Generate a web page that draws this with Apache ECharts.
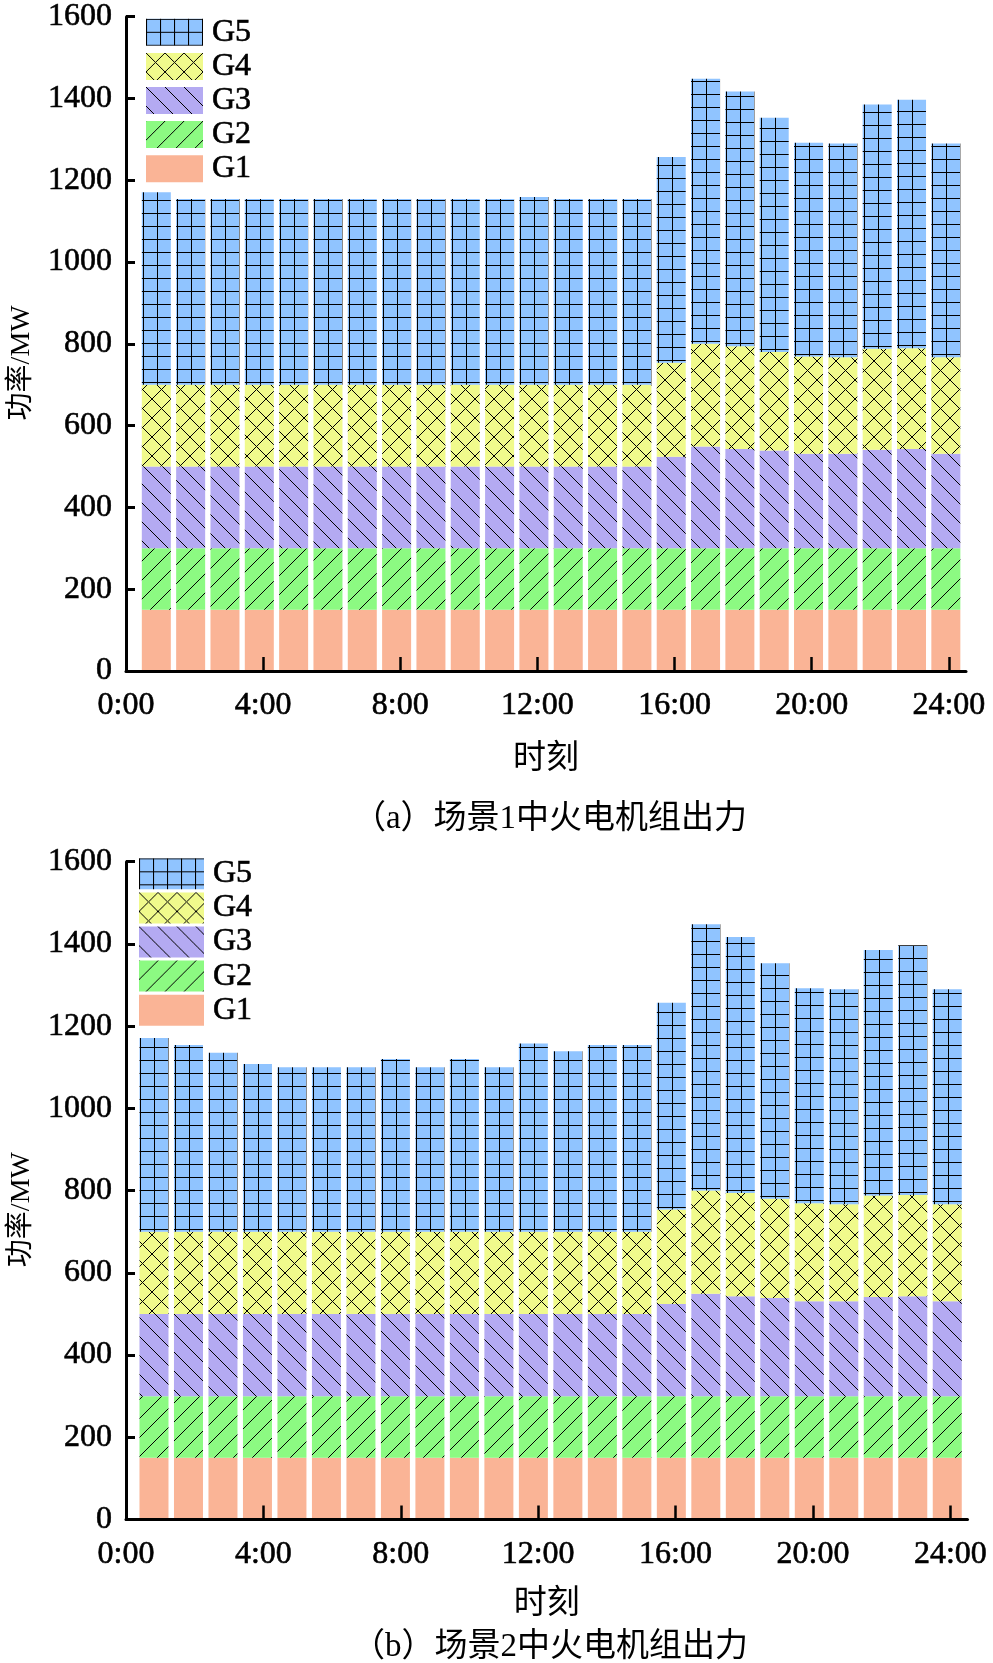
<!DOCTYPE html>
<html>
<head>
<meta charset="utf-8">
<script src="https://cdn.jsdelivr.net/npm/echarts@6/dist/echarts.min.js"></script>
<style>
html,body{margin:0;padding:0;background:#fff;}
#chart{width:993px;height:1663px;}
</style>
</head>
<body>
<div id="chart"></div>
<script>
// ---------------- data ----------------
const hours = [1,2,3,4,5,6,7,8,9,10,11,12,13,14,15,16,17,18,19,20,21,22,23,24];
const xTickLabels = ['0:00','4:00','8:00','12:00','16:00','20:00','24:00'];
const xTickHours = [0,4,8,12,16,20,24];
const xAxisMaxHour = 24.5;
const yTickValues = [0,200,400,600,800,1000,1200,1400,1600];
const seriesNames = ['G1','G2','G3','G4','G5'];
const legendOrder = ['G5','G4','G3','G2','G1'];
const xAxisTitle = '时刻';
const yAxisTitle = '功率/MW';
const captionA = '（a）场景1中火电机组出力';
const captionB = '（b）场景2中火电机组出力';

// Scenario 1
const s1G1 = [150,150,150,150,150,150,150,150,150,150,150,150,150,150,150,150,150,150,150,150,150,150,150,150];
const s1G2 = [150,150,150,150,150,150,150,150,150,150,150,150,150,150,150,150,150,150,150,150,150,150,150,150];
const s1G3 = [200,200,200,200,200,200,200,200,200,200,200,200,200,200,200,224,249,243,239,231,231,241,243,231];
const s1G4 = [200,200,200,200,200,200,200,200,200,200,200,200,200,200,200,230,251,251,241,238,236,247,246,236];
const s1G5 = [471,454,454,454,454,454,454,454,454,454,454,459,454,454,454,503,648,623,573,523,523,597,608,523];

// Scenario 2
const s2G1 = [150,150,150,150,150,150,150,150,150,150,150,150,150,150,150,150,150,150,150,150,150,150,150,150];
const s2G2 = [150,150,150,150,150,150,150,150,150,150,150,150,150,150,150,150,150,150,150,150,150,150,150,150];
const s2G3 = [200,200,200,200,200,200,200,200,200,200,200,200,200,200,200,224,249,243,239,231,231,241,243,231];
const s2G4 = [200,200,200,200,200,200,200,200,200,200,200,200,200,200,200,230,251,251,241,238,236,247,246,236];
const s2G5 = [471,454,435,408,400,400,400,420,400,420,400,458,439,454,454,503,648,623,573,523,523,597,608,523];

// ---------------- styles ----------------
const FONT = "'Liberation Serif', 'Noto Sans CJK SC', serif";
const baseColors = {G1:'#FAB496', G2:'#8CFA82', G3:'#B4AAF2', G4:'#F0FA8C', G5:'#90C4FF'};

function makePattern(base, w, h, draw) {
  const c = document.createElement('canvas');
  c.width = w; c.height = h;
  const ctx = c.getContext('2d');
  ctx.fillStyle = base;
  ctx.fillRect(0, 0, w, h);
  ctx.fillStyle = '#000';
  if (draw) draw(ctx, w, h);
  return {image: c, repeat: 'repeat'};
}
const patterns = {
  G1: baseColors.G1,
  G2: makePattern(baseColors.G2, 19, 19, (ctx, w, h) => { for (let i = 0; i < w; i++) ctx.fillRect(i, h - 1 - i, 1, 1); }),
  G3: makePattern(baseColors.G3, 19, 19, (ctx, w, h) => { for (let i = 0; i < w; i++) ctx.fillRect(i, i, 1, 1); }),
  G4: makePattern(baseColors.G4, 19, 19, (ctx, w, h) => { for (let i = 0; i < w; i++) { ctx.fillRect(i, i, 1, 1); ctx.fillRect(w - 1 - i, i, 1, 1); } }),
  G5: makePattern(baseColors.G5, 14, 13, (ctx, w, h) => { ctx.fillRect(0, 0, 1, h); ctx.fillRect(0, 0, w, 1); })
};

// category slots every half hour (axis scaffolding)
const slots = [];
for (let k = 0; k <= xAxisMaxHour * 2; k++) slots.push(String(k / 2));
function toSlots(values) {
  return slots.map(s => {
    const idx = hours.indexOf(Number(s));
    return idx >= 0 ? values[idx] : '-';
  });
}
function tickShown(index) {
  return xTickHours.indexOf(Number(slots[index])) >= 0;
}
function tickLabel(value) {
  const i = xTickHours.indexOf(Number(value));
  return i >= 0 ? xTickLabels[i] : '';
}

// visible axes grids, and bar grids (same scale, bars sit slightly left of the hour ticks as in the source figure)
const axisGrids = [
  {left: 125, top: 16.7, width: 841, height: 654.3},
  {left: 122.5, top: 861.7, width: 845, height: 657.8}
];
const barShift = 3;
const barGrids = axisGrids.map(g => ({left: g.left - barShift, top: g.top, width: g.width, height: g.height}));
const xNameGaps = [72, 68];

const numText = {fontSize: 32, fontFamily: FONT, color: '#000', textBorderColor: '#000', textBorderWidth: 0.6};

function makeXAxis(gi) {
  return {
    type: 'category', gridIndex: gi, data: slots, boundaryGap: false, z: 5,
    axisLine: {show: true, lineStyle: {color: '#000', width: 3}},
    axisTick: {show: true, inside: true, length: 14, interval: (i) => tickShown(i), lineStyle: {color: '#000', width: 2.5}},
    axisLabel: Object.assign({show: true, interval: (i) => tickShown(i), formatter: tickLabel, margin: 19, hideOverlap: false}, numText),
    splitLine: {show: false},
    name: xAxisTitle, nameLocation: 'middle', nameGap: xNameGaps[gi],
    nameTextStyle: {fontSize: 33, fontFamily: FONT, color: '#000'}
  };
}
function makeYAxis(gi) {
  return {
    type: 'value', gridIndex: gi, z: 5,
    min: yTickValues[0], max: yTickValues[yTickValues.length - 1], interval: yTickValues[1] - yTickValues[0],
    axisLine: {show: true, lineStyle: {color: '#000', width: 3}},
    axisTick: {show: true, inside: true, length: 9, lineStyle: {color: '#000', width: 3}},
    axisLabel: Object.assign({margin: 14, formatter: (v) => String(v)}, numText),
    splitLine: {show: false},
    name: yAxisTitle, nameLocation: 'middle', nameRotate: 90, nameGap: 90,
    nameTextStyle: {fontSize: 28, fontFamily: FONT, color: '#000', padding: [0, 38, 0, 0]}
  };
}
function makeBarXAxis(gi) {
  return {type: 'category', gridIndex: gi, data: slots, boundaryGap: false, show: false};
}
function makeBarYAxis(gi) {
  return {type: 'value', gridIndex: gi, show: false,
    min: yTickValues[0], max: yTickValues[yTickValues.length - 1], interval: yTickValues[1] - yTickValues[0]};
}

const scenarioData = [
  {G1: s1G1, G2: s1G2, G3: s1G3, G4: s1G4, G5: s1G5},
  {G1: s2G1, G2: s2G2, G3: s2G3, G4: s2G4, G5: s2G5}
];
const series = [];
scenarioData.forEach((sd, gi) => {
  seriesNames.forEach(name => {
    series.push({
      type: 'bar', name: name, xAxisIndex: 2 + gi, yAxisIndex: 2 + gi, stack: 'stack' + gi,
      barWidth: 29, data: toSlots(sd[name]),
      itemStyle: {color: patterns[name]},
      emphasis: {disabled: true}, animation: false
    });
  });
});

function makeLegend(left, top, w, h, gap) {
  return {
    data: legendOrder, orient: 'vertical', left: left, top: top, padding: 0,
    itemWidth: w, itemHeight: h, itemGap: gap, icon: 'rect', selectedMode: false,
    textStyle: Object.assign({padding: [0, 0, 0, 4]}, numText)
  };
}

const option = {
  backgroundColor: '#fff',
  animation: false,
  grid: axisGrids.concat(barGrids),
  xAxis: [makeXAxis(0), makeXAxis(1), makeBarXAxis(2), makeBarXAxis(3)],
  yAxis: [makeYAxis(0), makeYAxis(1), makeBarYAxis(2), makeBarYAxis(3)],
  legend: [makeLegend(146, 16, 57, 27, 1.5), makeLegend(139, 857.5, 65, 31, 1.5)],
  series: series,
  graphic: [
    {type: 'text', x: 550, y: 819, style: {text: captionA, fontSize: 33, fontFamily: FONT, fill: '#000', align: 'center', verticalAlign: 'middle'}},
    {type: 'text', x: 550, y: 1647, style: {text: captionB, fontSize: 33, fontFamily: FONT, fill: '#000', align: 'center', verticalAlign: 'middle'}}
  ]
};

const chart = echarts.init(document.getElementById('chart'), null, {renderer: 'canvas', devicePixelRatio: 1});
chart.setOption(option);

// anchor the G5 grid hatch to each bar (vertical line at the bar's left edge and centre, rows from the bottom)
try {
  const update = series.map(() => ({}));
  series.forEach((s, si) => {
    if (s.name !== 'G5') return;
    const sd = chart.getModel().getSeriesByIndex(si).getData();
    update[si] = {
      data: s.data.map((v, i) => {
        if (v === '-') return v;
        const L = sd.getItemLayout(i);
        if (!L) return v;
        const bottom = Math.max(L.y, L.y + L.height);
        return {value: v, itemStyle: {color: Object.assign({}, patterns.G5, {x: Math.round(L.x) + 1, y: Math.round(bottom) - 3})}};
      })
    };
  });
  chart.setOption({series: update});
} catch (e) {}
</script>
</body>
</html>
